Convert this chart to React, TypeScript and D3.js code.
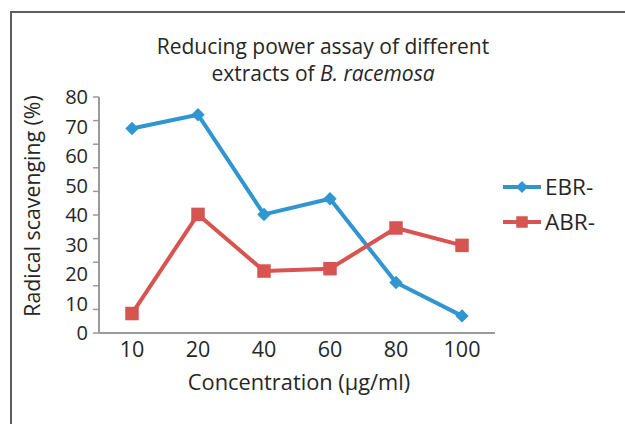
import React, { useEffect, useRef } from "react";
import * as d3 from "d3";

// concentrations (µg/ml) on the x axis
const concentrations = ["10", "20", "40", "60", "80", "100"];
// radical scavenging (%)
const ebrValues = [69.3, 74.0, 40.2, 45.5, 17.1, 5.8];
const abrValues = [6.6, 40.2, 21.0, 21.8, 35.6, 29.7];
const yTickLabels = [0, 10, 20, 30, 40, 50, 60, 70, 80];
// the tick marks in the source do not line up with its labels
const yTickMarks = [0, 8, 16, 24, 32, 40, 48, 56, 64, 72, 80];

const series = [
  { name: "EBR-", values: ebrValues, color: "#3195cf", marker: "diamond" },
  { name: "ABR-", values: abrValues, color: "#d75551", marker: "square" },
];

const W = 625;
const H = 424;
const FONT = "'Open Sans', 'DejaVu Sans', sans-serif";
const TEXT = "#262626";

function Chart() {
  const ref = useRef<SVGSVGElement>(null);

  useEffect(() => {
    const svg = d3.select(ref.current);
    svg.selectAll("*").remove();

    const x = d3.scaleBand().domain(concentrations).range([99, 495]);
    const y = d3.scaleLinear().domain([0, 80]).range([333, 97]);
    const cx = (c: string) => (x(c) as number) + x.bandwidth() / 2;

    // outer frame
    svg
      .append("rect")
      .attr("x", 11)
      .attr("y", 12)
      .attr("width", 700)
      .attr("height", 500)
      .attr("fill", "white")
      .attr("stroke", "#5e5e5e")
      .attr("stroke-width", 2);

    // title
    const title = svg
      .append("text")
      .attr("text-anchor", "middle")
      .attr("font-family", FONT)
      .attr("font-size", 21)
      .attr("fill", TEXT);
    title.append("tspan").attr("x", 323).attr("y", 54).text("Reducing power assay of different");
    const l2 = title.append("tspan").attr("x", 323).attr("y", 81);
    l2.append("tspan").text("extracts of ");
    l2.append("tspan").attr("font-style", "italic").text("B. racemosa");

    // y axis
    const axisColor = "#9a9a9a";
    svg
      .append("line")
      .attr("x1", 99)
      .attr("x2", 99)
      .attr("y1", y(80))
      .attr("y2", y(0))
      .attr("stroke", axisColor)
      .attr("stroke-width", 2);
    svg
      .append("g")
      .selectAll("line")
      .data(yTickMarks)
      .enter()
      .append("line")
      .attr("x1", 93)
      .attr("x2", 99)
      .attr("y1", (d) => y(d))
      .attr("y2", (d) => y(d))
      .attr("stroke", axisColor)
      .attr("stroke-width", 1.5);
    svg
      .append("g")
      .selectAll("text")
      .data(yTickLabels)
      .enter()
      .append("text")
      .attr("x", 88)
      .attr("y", (d) => y(d))
      .attr("dy", "0.35em")
      .attr("text-anchor", "end")
      .attr("font-family", FONT)
      .attr("font-size", 20)
      .attr("fill", TEXT)
      .text((d) => d);

    svg
      .append("text")
      .attr("transform", "translate(40,206) rotate(-90)")
      .attr("text-anchor", "middle")
      .attr("font-family", FONT)
      .attr("font-size", 21.3)
      .attr("fill", TEXT)
      .text("Radical scavenging (%)");

    // x axis
    svg
      .append("line")
      .attr("x1", 99)
      .attr("x2", 495)
      .attr("y1", y(0))
      .attr("y2", y(0))
      .attr("stroke", axisColor)
      .attr("stroke-width", 2);
    svg
      .append("g")
      .selectAll("text")
      .data(concentrations)
      .enter()
      .append("text")
      .attr("x", (d) => cx(d))
      .attr("y", 357)
      .attr("text-anchor", "middle")
      .attr("font-family", FONT)
      .attr("font-size", 21.5)
      .attr("fill", TEXT)
      .text((d) => d);
    svg
      .append("text")
      .attr("x", 299)
      .attr("y", 390)
      .attr("text-anchor", "middle")
      .attr("font-family", FONT)
      .attr("font-size", 21.8)
      .attr("fill", TEXT)
      .text("Concentration (µg/ml)");

    const drawMarker = (g: any, kind: string, px: number, py: number, color: string, s: number) => {
      const r = g
        .append("rect")
        .attr("x", px - s / 2)
        .attr("y", py - s / 2)
        .attr("width", s)
        .attr("height", s)
        .attr("fill", color);
      if (kind === "diamond") r.attr("transform", `rotate(45,${px},${py})`);
    };

    const line = d3
      .line<number>()
      .x((_, i) => cx(concentrations[i]))
      .y((d) => y(d));

    series.forEach((s) => {
      const g = svg.append("g");
      g.append("path")
        .attr("d", line(s.values))
        .attr("fill", "none")
        .attr("stroke", s.color)
        .attr("stroke-width", 4)
        .attr("stroke-linejoin", "round");
      s.values.forEach((v, i) => {
        drawMarker(g, s.marker, cx(concentrations[i]), y(v), s.color, s.marker === "diamond" ? 9.5 : 13.5);
      });
    });

    // legend
    series.forEach((s, i) => {
      const ly = 187 + i * 35;
      const g = svg.append("g");
      g.append("line")
        .attr("x1", 503)
        .attr("x2", 541)
        .attr("y1", ly)
        .attr("y2", ly)
        .attr("stroke", s.color)
        .attr("stroke-width", 4);
      drawMarker(g, s.marker, 522, ly, s.color, s.marker === "diamond" ? 8.5 : 11.5);
      g.append("text")
        .attr("x", 545)
        .attr("y", ly)
        .attr("dy", "0.36em")
        .attr("font-family", FONT)
        .attr("font-size", 22.5)
        .attr("fill", TEXT)
        .text(s.name);
    });
  }, []);

  return <svg ref={ref} width={W} height={H} style={{ display: "block" }} />;
}

export default function App() {
  return (
    <div style={{ position: "absolute", left: 0, top: 0 }}>
      <Chart />
    </div>
  );
}
